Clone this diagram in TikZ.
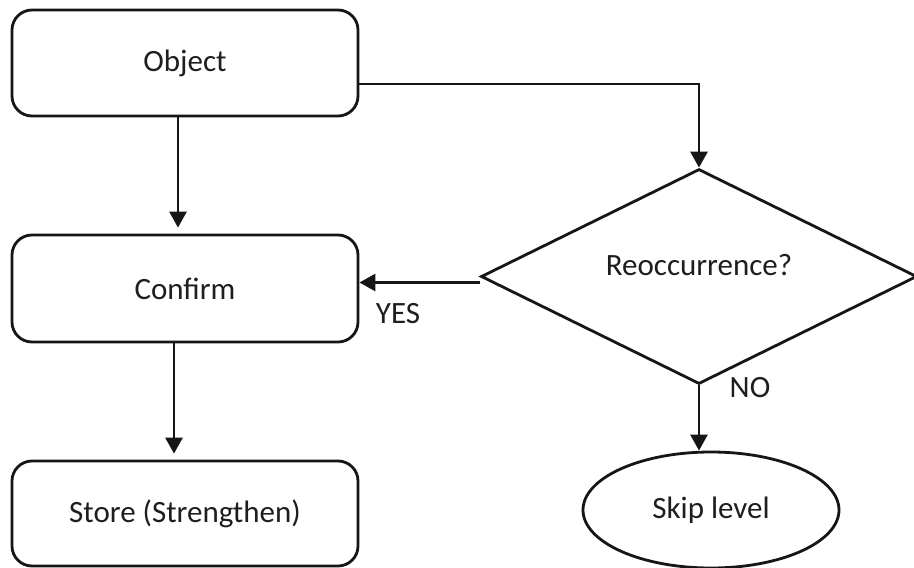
\documentclass[tikz,border=0pt]{standalone}
\usepackage{fontspec}
\setmainfont{Carlito}
\usetikzlibrary{shapes.geometric,arrows.meta}

\definecolor{ink}{HTML}{161616}
\definecolor{txtc}{HTML}{1E1E1E}

\tikzset{
  line/.style={draw=ink, line width=2.8pt},
  stepbox/.style={line, rectangle, rounded corners=20pt,
    minimum width=346pt, inner sep=0pt, text=txtc,
    font=\fontsize{31}{37}\selectfont},
  decision/.style={line, diamond, minimum width=436pt,
    minimum height=215pt, inner sep=0pt},
  terminal/.style={line, ellipse, minimum width=256pt,
    minimum height=116pt, inner sep=0pt, text=txtc,
    font=\fontsize{31}{37}\selectfont},
  lbl/.style={text=txtc, inner sep=0pt, font=\fontsize{31}{37}\selectfont},
  arr/.style={line, -{Triangle[width=17pt,length=16pt]}}
}

\begin{document}
\begin{tikzpicture}[x=1pt, y=-1pt]
  \useasboundingbox[fill=white] (0,0) rectangle (914,568);

  % process boxes on the left
  \node[stepbox, minimum height=106pt] (obj)   at (185,63)    {Object};
  \node[stepbox, minimum height=107pt] (conf)  at (185,288.5) {Confirm};
  \node[stepbox, minimum height=105pt] (store) at (185,513.5) {Store (Strengthen)};

  % decision and end state on the right
  \node[decision] (dia) at (699,276.5) {};
  \node[lbl] (diatext) at ([yshift=11pt]dia.center) {Reoccurrence?};
  \node[terminal] (skip) at (711,510) {Skip level};

  % connectors
  \draw[arr, shorten >=6pt] ([xshift=-7pt]obj.south) -- ([xshift=-7pt]obj.south |- conf.north);
  \draw[arr, shorten >=6pt] ([xshift=-11pt]conf.south) -- ([xshift=-11pt]conf.south |- store.north);
  \draw[arr] ([yshift=-21pt]obj.east) -| (dia.north);
  \draw[arr] ([yshift=-6pt]dia.west) -- ([yshift=-6pt]dia.west -| conf.east);
  \draw[arr] (dia.south) -- (dia.south |- skip.north);

  % branch labels
  \node[lbl] (yes) at (398,314) {YES};
  \node[lbl] (no)  at (750,388) {NO};
\end{tikzpicture}
\end{document}
